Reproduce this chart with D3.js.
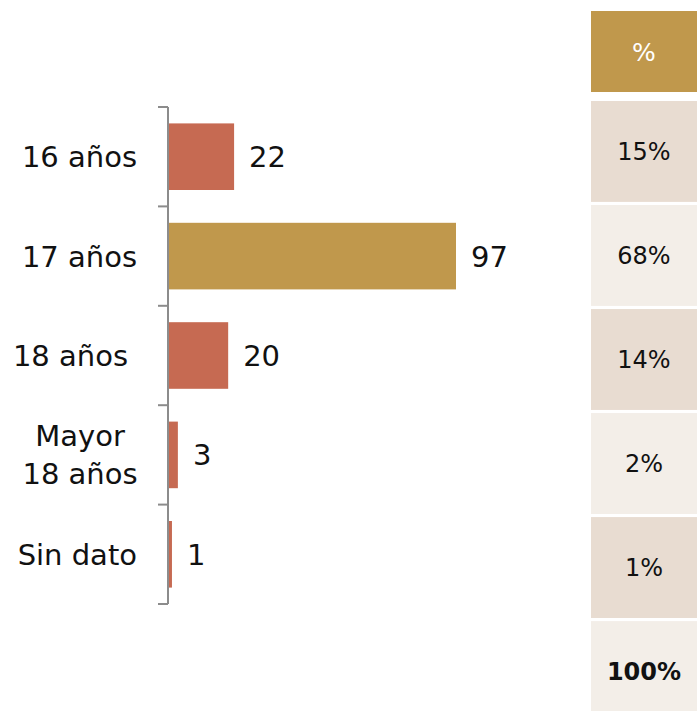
<!DOCTYPE html>
<html>
<head>
<meta charset="utf-8">
<script src="https://cdn.jsdelivr.net/npm/d3@7"></script>
<style>
    body { margin: 0; background: #fff; }
    text { font-family: "DejaVu Sans", sans-serif; fill: #111; }
</style>
</head>
<body>
<svg id="chart" width="697" height="711"></svg>
<script>
// data
let categories = ["16 años", "17 años", "18 años", "Mayor\n18 años", "Sin dato"],
    counts = [22, 97, 20, 3, 1],
    highlight = "17 años",
    pct_header = "%",
    pct_labels = ["15%", "68%", "14%", "2%", "1%"],
    pct_total = "100%";

let svg = d3.select("#chart"),
    margin = { top: 107, left: 168 },
    plot_h = 497,
    y = d3.scaleBand().domain(categories).range([0, plot_h]).paddingInner(0.33).paddingOuter(0.165),
    x = d3.scaleLinear().domain([0, 97]).range([0, 287]);

let g = svg.append("g")
    .attr("transform", "translate(" + margin.left + "," + margin.top + ")");

// axis with ticks between categories
let tick_pos = d3.range(categories.length + 1).map(i => i * y.step());
g.append("line")
    .attr("x1", 0).attr("x2", 0)
    .attr("y1", 0).attr("y2", plot_h)
    .attr("stroke", "#8c8c8c").attr("stroke-width", 2);
g.selectAll("line.tick")
    .data(tick_pos)
    .enter().append("line")
    .attr("class", "tick")
    .attr("x1", -10).attr("x2", 0)
    .attr("y1", d => d).attr("y2", d => d)
    .attr("stroke", "#8c8c8c").attr("stroke-width", 2);

// bars
g.selectAll("rect.bar")
    .data(categories)
    .enter().append("rect")
    .attr("class", "bar")
    .attr("x", 1)
    .attr("y", d => y(d))
    .attr("width", (d, i) => x(counts[i]))
    .attr("height", y.bandwidth())
    .attr("fill", d => d === highlight ? "#c0984c" : "#c66a52");

// value labels
g.selectAll("text.val")
    .data(categories)
    .enter().append("text")
    .attr("class", "val")
    .attr("x", (d, i) => x(counts[i]) + 16)
    .attr("y", d => y(d) + y.bandwidth() / 2)
    .attr("dy", "0.36em")
    .style("font-size", "29px")
    .text((d, i) => counts[i]);

// category labels (multi-line ones are centred, the rest end near the axis)
g.selectAll("text.cat")
    .data(categories)
    .enter().append("text")
    .attr("class", "cat")
    .style("font-size", "29px")
    .each(function (d) {
        let lines = d.split("\n"),
            multi = lines.length > 1,
            cy = y(d) + y.bandwidth() / 2,
            sel = d3.select(this)
                .attr("text-anchor", multi ? "middle" : "end");
        lines.forEach((ln, k) => {
            sel.append("tspan")
                .attr("x", multi ? -88 : (d === "18 años" ? -40 : -31))
                .attr("y", cy + (k - (lines.length - 1) / 2) * 38)
                .attr("dy", "0.36em")
                .text(ln);
        });
    });

// percentage table
let rows = pct_labels.concat([pct_total]),
    ty = d3.scaleBand().domain(d3.range(rows.length)).range([101, 101 + rows.length * 103.5]).paddingInner(0.03).paddingOuter(0),
    tx = 591, tw = 106;

svg.append("rect")
    .attr("x", tx).attr("y", 11)
    .attr("width", tw).attr("height", 81)
    .attr("fill", "#c0984c");
svg.append("text")
    .attr("x", tx + tw / 2).attr("y", 52)
    .attr("dy", "0.36em")
    .attr("text-anchor", "middle")
    .style("font-size", "25px")
    .style("fill", "#fff")
    .text(pct_header);

svg.selectAll("rect.cell")
    .data(rows)
    .enter().append("rect")
    .attr("class", "cell")
    .attr("x", tx)
    .attr("y", (d, i) => ty(i))
    .attr("width", tw)
    .attr("height", ty.bandwidth())
    .attr("fill", (d, i) => i % 2 === 0 ? "#e8dcd1" : "#f3eee8");
svg.selectAll("text.cell")
    .data(rows)
    .enter().append("text")
    .attr("class", "cell")
    .attr("x", tx + tw / 2)
    .attr("y", (d, i) => ty(i) + ty.bandwidth() / 2)
    .attr("dy", "0.36em")
    .attr("text-anchor", "middle")
    .style("font-size", "24px")
    .style("font-weight", (d, i) => i === rows.length - 1 ? "bold" : "normal")
    .text(d => d);
</script>
</body>
</html>
